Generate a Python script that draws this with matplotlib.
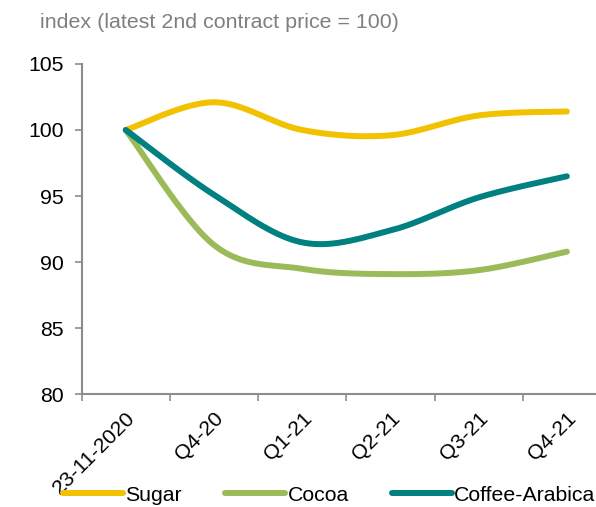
import numpy as np
import matplotlib.pyplot as plt
from matplotlib.lines import Line2D

categories = ['23-11-2020', 'Q4-20', 'Q1-21', 'Q2-21', 'Q3-21', 'Q4-21']
sugar = [100, 102.1, 100.0, 99.6, 101.1, 101.4]
cocoa = [100, 91.3, 89.5, 89.1, 89.4, 90.8]
coffee = [100, 95.1, 91.5, 92.4, 94.9, 96.5]

series = [('Sugar', sugar, '#F2C100'),
          ('Cocoa', cocoa, '#9BBB59'),
          ('Coffee-Arabica', coffee, '#008080')]


def smooth(x, y, n=40):
    # excel-style smoothed line: bezier with catmull-rom control points
    x = np.asarray(x, float)
    y = np.asarray(y, float)
    px = np.concatenate([[x[0]], x, [x[-1]]])
    py = np.concatenate([[y[0]], y, [y[-1]]])
    xs, ys = [], []
    t = np.linspace(0, 1, n)
    for i in range(1, len(px) - 2):
        x0, y0 = px[i], py[i]
        x3, y3 = px[i + 1], py[i + 1]
        x1 = x0 + (px[i + 1] - px[i - 1]) / 6
        y1 = y0 + (py[i + 1] - py[i - 1]) / 6
        x2 = x3 - (px[i + 2] - px[i]) / 6
        y2 = y3 - (py[i + 2] - py[i]) / 6
        b0 = (1 - t) ** 3
        b1 = 3 * (1 - t) ** 2 * t
        b2 = 3 * (1 - t) * t ** 2
        b3 = t ** 3
        xs.append(b0 * x0 + b1 * x1 + b2 * x2 + b3 * x3)
        ys.append(b0 * y0 + b1 * y1 + b2 * y2 + b3 * y3)
    return np.concatenate(xs), np.concatenate(ys)


plt.rcParams['font.family'] = ['Liberation Sans', 'DejaVu Sans']

fig = plt.figure(figsize=(5.96, 5.07), dpi=100)
ax = fig.add_axes([0.137, 0.222, 0.863, 0.652])

xpos = np.arange(len(categories)) + 0.5
for name, vals, col in series:
    sx, sy = smooth(xpos, vals)
    ax.plot(sx, sy, color=col, lw=4.3, solid_capstyle='round', label=name)

ax.set_xlim(0, 5.83)
ax.set_ylim(80, 105)
ax.set_yticks(np.arange(80, 106, 5))
ax.set_xticks(np.arange(0, 6))
ax.set_xticklabels([])
ax.set_xticks(xpos, minor=True)
ax.set_xticklabels(categories, minor=True, rotation=45, ha='right',
                   rotation_mode='anchor', fontsize=15.3)
ax.tick_params(axis='x', which='minor', length=0, pad=10)
ax.tick_params(axis='x', which='major', length=5, width=1.2, color='#8C8C8C')
ax.tick_params(axis='y', length=5, width=1.2, color='#8C8C8C', labelsize=15.3, pad=8)

for s in ['top', 'right']:
    ax.spines[s].set_visible(False)
for s in ['left', 'bottom']:
    ax.spines[s].set_color('#8C8C8C')
    ax.spines[s].set_linewidth(1.5)

fig.text(0.067, 0.955, 'index (latest 2nd contract price = 100)',
         color='#7F7F7F', fontsize=15.4, va='center', ha='left')

handles = [Line2D([], [], color=c, lw=4.3, solid_capstyle='round') for _, _, c in series]
fig.legend(handles, [n for n, _, _ in series], loc='center left',
           bbox_to_anchor=(0.106, 0.023), ncol=3, frameon=False, fontsize=15.3,
           handlelength=2.8, handletextpad=0.12, columnspacing=2.05,
           borderaxespad=0, borderpad=0)

fig.savefig('out.png', dpi=100)
